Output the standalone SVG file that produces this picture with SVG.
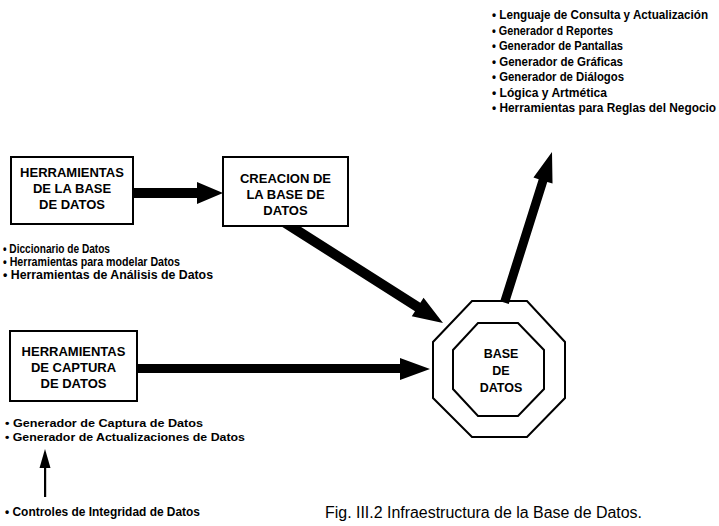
<svg xmlns="http://www.w3.org/2000/svg" width="719" height="526" viewBox="0 0 719 526">
  <style>
    .box { fill: #fff; stroke: #000; stroke-width: 2; }
    .oct { fill: none; stroke: #000; stroke-width: 2; }
    .arrow { fill: #000; stroke: none; }
    .lbl { font-family: "Liberation Sans", Arial, sans-serif; font-weight: bold; font-size: 13px; fill: #000; text-anchor: middle; }
    .item { font-family: "Liberation Sans", Arial, sans-serif; font-weight: bold; font-size: 12px; fill: #000; }
    .cap { font-family: "Liberation Sans", Arial, sans-serif; font-size: 16px; fill: #000; }
  </style>
  <rect width="719" height="526" fill="#fff"/>

  <!-- thick arrows between the components -->
  <g id="connectors">
    <!-- tools -> creation -->
    <polygon class="arrow" points="130,188 197,188 197,182 223,193 197,204 197,198 130,198"/>
    <!-- creation -> database -->
    <g transform="translate(443,323) rotate(32.4)">
      <polygon class="arrow" points="-188,-5 -30,-5 -30,-11 0,0 -30,11 -30,5 -188,5"/>
    </g>
    <!-- capture tools -> database -->
    <polygon class="arrow" points="135,364 400,364 400,358 430,369 400,380 400,373 135,373"/>
    <!-- database -> services list -->
    <g transform="translate(552,152) rotate(-72.5)">
      <polygon class="arrow" points="-158,-4.5 -30,-4.5 -30,-10 0,0 -30,10 -30,4.5 -158,4.5"/>
    </g>
    <!-- integrity controls -> capture list -->
    <rect class="arrow" x="44" y="465" width="2.2" height="32"/>
    <polygon class="arrow" points="45,449 50.5,468 39.5,468"/>
  </g>

  <g id="herramientas-base">
    <rect class="box" x="11" y="157" width="122" height="67"/>
    <text class="lbl" x="72" y="177">HERRAMIENTAS</text>
    <text class="lbl" x="72" y="193">DE LA BASE</text>
    <text class="lbl" x="72" y="209">DE DATOS</text>
  </g>

  <g id="creacion-base">
    <rect class="box" x="223" y="157" width="125" height="69"/>
    <text class="lbl" x="285.5" y="183">CREACION DE</text>
    <text class="lbl" x="285.5" y="199">LA BASE DE</text>
    <text class="lbl" x="285.5" y="215">DATOS</text>
  </g>

  <g id="herramientas-captura">
    <rect class="box" x="10" y="331" width="127" height="70"/>
    <text class="lbl" x="73.5" y="356">HERRAMIENTAS</text>
    <text class="lbl" x="73.5" y="372">DE CAPTURA</text>
    <text class="lbl" x="73.5" y="388">DE DATOS</text>
  </g>

  <g id="base-datos">
    <polygon class="oct" points="472,301 527,301 565,342 565,398 527,437 472,437 433,398 433,342"/>
    <polygon class="oct" points="478,323 518,323 544,350 544,389 518,416 478,416 453,389 453,350"/>
    <text class="lbl" x="501" y="358" style="font-size:12.5px">BASE</text>
    <text class="lbl" x="501" y="375" style="font-size:12.5px">DE</text>
    <text class="lbl" x="501" y="392" style="font-size:12.5px">DATOS</text>
  </g>

  <g id="lista-servicios">
    <text class="item" x="492" y="19" textLength="216" lengthAdjust="spacingAndGlyphs">• Lenguaje de Consulta y Actualización</text>
    <text class="item" x="492" y="34.5" textLength="121" lengthAdjust="spacingAndGlyphs">• Generador d Reportes</text>
    <text class="item" x="492" y="50" textLength="131" lengthAdjust="spacingAndGlyphs">• Generador de Pantallas</text>
    <text class="item" x="492" y="65.5" textLength="131" lengthAdjust="spacingAndGlyphs">• Generador de Gráficas</text>
    <text class="item" x="492" y="81" textLength="132" lengthAdjust="spacingAndGlyphs">• Generador de Diálogos</text>
    <text class="item" x="492" y="96.5" textLength="115" lengthAdjust="spacingAndGlyphs">• Lógica y Artmética</text>
    <text class="item" x="492" y="112" textLength="224" lengthAdjust="spacingAndGlyphs">• Herramientas para Reglas del Negocio</text>
  </g>

  <g id="lista-herramientas">
    <text class="item" x="3" y="253" textLength="107" lengthAdjust="spacingAndGlyphs">• Diccionario de Datos</text>
    <text class="item" x="3" y="266" textLength="177" lengthAdjust="spacingAndGlyphs">• Herramientas para modelar Datos</text>
    <text class="item" x="3" y="279" textLength="210" lengthAdjust="spacingAndGlyphs">• Herramientas de Análisis de Datos</text>
  </g>

  <g id="lista-captura">
    <text class="item" x="5" y="427" textLength="198" lengthAdjust="spacingAndGlyphs" style="font-size:11.5px">• Generador de Captura de Datos</text>
    <text class="item" x="5" y="441" textLength="240" lengthAdjust="spacingAndGlyphs" style="font-size:11.5px">• Generador de Actualizaciones de Datos</text>
  </g>

  <g id="controles">
    <text class="item" x="5" y="516" textLength="195" lengthAdjust="spacingAndGlyphs">• Controles de Integridad de Datos</text>
  </g>

  <text class="cap" x="325" y="518" textLength="317" lengthAdjust="spacingAndGlyphs">Fig. III.2 Infraestructura de la Base de Datos.</text>
</svg>
